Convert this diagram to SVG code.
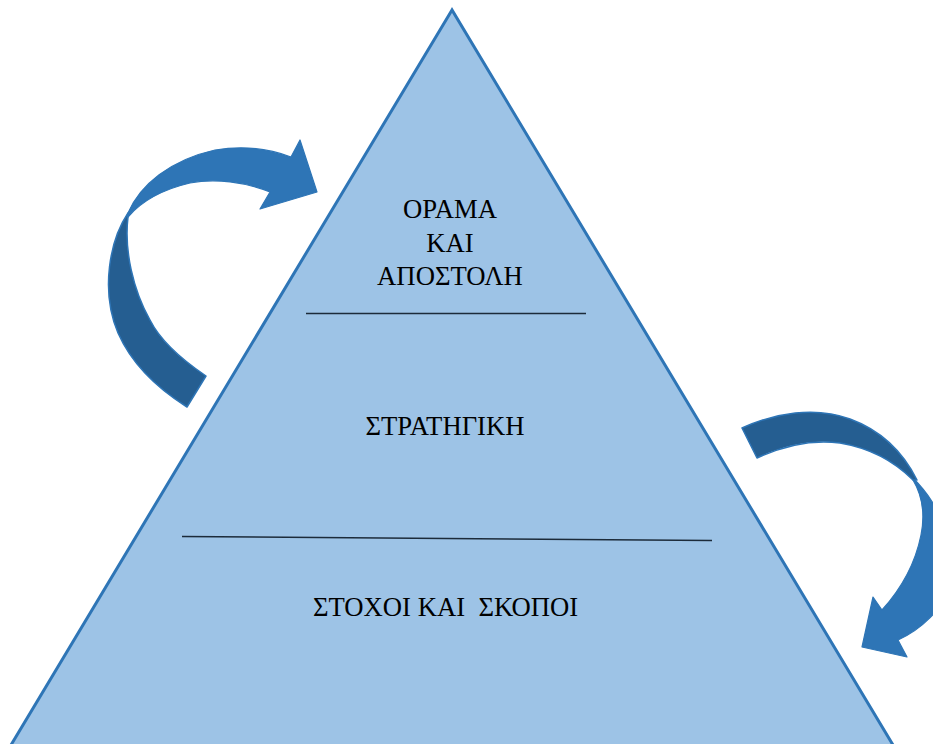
<svg xmlns="http://www.w3.org/2000/svg" width="933" height="744" viewBox="0 0 933 744">
  <style>
    .pyr { fill: #9DC3E6; stroke: #2E75B6; stroke-width: 3; stroke-linejoin: miter; }
    .sep { stroke: #1C2B3A; stroke-width: 1.6; fill: none; }
    .lbl { font-family: "Liberation Serif", "Times New Roman", "DejaVu Serif", serif; font-size: 26.7px; fill: #000; text-anchor: middle; }
    .front { fill: #2E75B6; stroke: #2E75B6; stroke-width: 1.2; stroke-linejoin: round; }
    .back { fill: #255E91; stroke: #2E75B6; stroke-width: 1.5; stroke-linejoin: round; }
  </style>
  <rect width="933" height="744" fill="#FFFFFF"/>

  <!-- pyramid -->
  <g id="pyramid">
    <polygon class="pyr" points="452,10 2,760 902,760"/>
  </g>

  <!-- tier separators -->
  <g id="separators">
    <line class="sep" x1="306" y1="313.5" x2="586" y2="313.5"/>
    <line class="sep" x1="182" y1="536.5" x2="712" y2="540.5"/>
  </g>

  <!-- tier labels -->
  <g id="tier-vision">
    <text class="lbl" x="450" y="218">ΟΡΑΜΑ</text>
    <text class="lbl" x="450" y="252">ΚΑΙ</text>
    <text class="lbl" x="450" y="285">ΑΠΟΣΤΟΛΗ</text>
  </g>
  <g id="tier-strategy">
    <text class="lbl" x="445" y="435">ΣΤΡΑΤΗΓΙΚΗ</text>
  </g>
  <g id="tier-goals">
    <text class="lbl" x="445.5" y="616" xml:space="preserve" style="white-space:pre">ΣΤΟΧΟΙ ΚΑΙ  ΣΚΟΠΟΙ</text>
  </g>

  <!-- curved arrows around the pyramid -->
  <g id="connectors">
    <g id="arrow-left">
      <path class="back" d="M128,213 C110,240 100,290 118,333 C133,367 160,390 187,407 L206,376 C178,357 160,340 150,320 C133,290 124,250 128,217 Z"/>
      <path class="front" d="M128,213 C140,185 170,160 215,150 C245,145 270,149 291,157 L300,140 L317,192 L260,209 L270,192 C245,182 215,178 190,183 C160,190 140,203 128,217 Z"/>
    </g>
    <g id="arrow-right">
      <path class="front" d="M913,478 C940,505 958,545 950,585 C943,610 920,630 898,640 L907,657 L862,647 L873,597 L882,610 C900,590 915,565 921,535 C925,515 922,495 913,480 Z"/>
      <path class="back" d="M742,428 C775,413 815,406 850,419 C880,430 903,452 917,480 L913,480 C895,462 870,448 840,443 C810,439 783,446 757,458 Z"/>
    </g>
  </g>
</svg>
